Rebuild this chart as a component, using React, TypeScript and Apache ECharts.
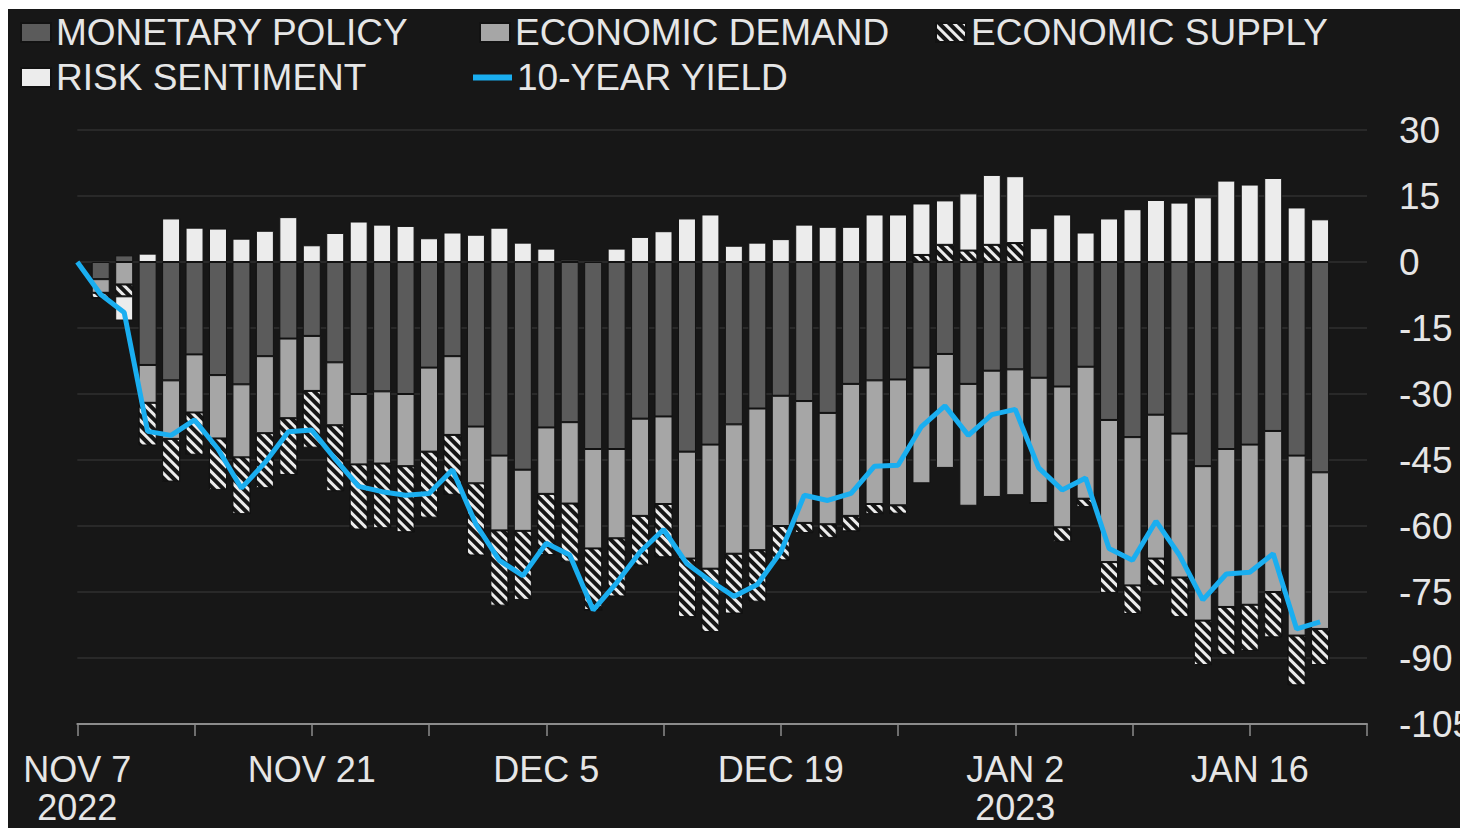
import React, { useEffect, useRef } from 'react';
import * as echarts from 'echarts';

// Business days from Nov 7 2022 to Jan 23 2023 (category axis)
const CATEGORIES = [
  'NOV 7', 'NOV 8', 'NOV 9', 'NOV 10', 'NOV 11', 'NOV 14', 'NOV 15', 'NOV 16', 'NOV 17', 'NOV 18',
  'NOV 21', 'NOV 22', 'NOV 23', 'NOV 24', 'NOV 25', 'NOV 28', 'NOV 29', 'NOV 30', 'DEC 1', 'DEC 2',
  'DEC 5', 'DEC 6', 'DEC 7', 'DEC 8', 'DEC 9', 'DEC 12', 'DEC 13', 'DEC 14', 'DEC 15', 'DEC 16',
  'DEC 19', 'DEC 20', 'DEC 21', 'DEC 22', 'DEC 23', 'DEC 26', 'DEC 27', 'DEC 28', 'DEC 29', 'DEC 30',
  'JAN 2', 'JAN 3', 'JAN 4', 'JAN 5', 'JAN 6', 'JAN 9', 'JAN 10', 'JAN 11', 'JAN 12', 'JAN 13',
  'JAN 16', 'JAN 17', 'JAN 18', 'JAN 19', 'JAN 20', 'JAN 23',
];
const YEAR_LABELS: Record<string, string> = { 'NOV 7': '2022', 'JAN 2': '2023' };

const Y_MIN = -105;
const Y_MAX = 30;
const Y_STEP = 15;

// Bars: NOV 8 .. JAN 19
const MONETARY = [
  -3.9, 1.5, -23.4, -26.9, -21.0, -25.7, -27.8, -21.4, -17.4, -16.8,
  -22.8, -30.0, -29.4, -30.0, -24.0, -21.4, -37.4, -44.0, -47.2, -37.6,
  -36.4, -42.5, -42.5, -35.6, -35.1, -43.1, -41.5, -36.9, -33.3, -30.4,
  -31.6, -34.3, -27.7, -26.9, -26.7, -24.0, -20.9, -27.7, -24.7, -24.4,
  -26.3, -28.3, -23.8, -35.9, -39.8, -34.7, -39.0, -46.4, -42.5, -41.5,
  -38.4, -44.0, -47.8,
];
const DEMAND = [
  -3.1, -5.1, -8.6, -13.3, -13.2, -14.4, -16.6, -17.5, -18.1, -12.5,
  -14.3, -16.0, -16.4, -16.4, -19.1, -17.9, -12.9, -17.0, -13.9, -15.1,
  -18.5, -22.6, -20.3, -22.1, -19.9, -24.3, -28.2, -29.4, -32.2, -29.6,
  -27.7, -25.3, -30.0, -28.1, -28.6, -26.3, -25.9, -27.7, -28.7, -28.6,
  -28.5, -32.0, -30.0, -32.3, -33.7, -32.7, -32.7, -35.1, -35.9, -36.4,
  -36.6, -40.9, -35.6,
];
const SUPPLY = [
  -1.2, -2.7, -9.7, -9.7, -9.6, -11.7, -12.9, -12.5, -12.9, -12.9,
  -15.0, -14.8, -14.7, -15.0, -15.0, -13.6, -16.4, -17.1, -15.7, -13.9,
  -13.2, -14.0, -13.2, -11.3, -12.1, -13.3, -14.4, -13.6, -11.7, -7.8,
  -2.3, -3.1, -3.5, -2.3, -1.9, 1.6, 3.9, 2.6, 3.9, 4.3,
  0, -3.3, -1.9, -7.0, -6.5, -6.2, -9.0, -10.1, -10.9, -10.5,
  -10.3, -11.3, -8.2,
];
const RISK = [
  0, -5.5, 1.9, 9.9, 7.8, 7.6, 5.3, 7.1, 10.2, 3.8,
  6.6, 9.2, 8.5, 8.2, 5.4, 6.7, 6.2, 7.8, 4.4, 3.05,
  0.5, 0, 3.05, 5.7, 7.0, 9.9, 10.8, 3.7, 4.4, 5.2,
  8.5, 8.0, 8.0, 10.8, 10.8, 11.7, 10.1, 13.0, 15.9, 15.2,
  7.7, 10.8, 6.7, 9.9, 12.0, 14.1, 13.5, 14.7, 18.5, 17.6,
  19.1, 12.4, 9.7,
];
// 10-year yield change: NOV 7 .. JAN 19
const YIELD = [
  0, -7.4, -11.5, -38.5, -39.4, -35.9, -42.5, -51.4, -45.6, -38.6,
  -38.2, -44.8, -51.0, -52.2, -53.0, -52.6, -47.2, -59.6, -67.8, -71.3,
  -63.9, -66.6, -79.1, -72.9, -65.9, -60.8, -68.6, -72.5, -76.0, -73.3,
  -65.9, -53.0, -54.2, -52.6, -46.4, -46.2, -37.4, -32.7, -39.4, -34.7,
  -33.5, -46.8, -51.8, -49.1, -65.1, -67.8, -58.9, -66.6, -76.8, -70.9,
  -70.5, -66.3, -83.4, -81.8,
];

const FONT = 'Liberation Sans';
const TEXT_COLOR = '#e6e6e6';

export default function App() {
  const ref = useRef<HTMLDivElement>(null);

  useEffect(() => {
    if (!ref.current) return;
    const chart = echarts.init(ref.current, undefined, { renderer: 'svg' });

    const barBorder = { borderColor: '#121212', borderWidth: 1 };
    const legendCommon = {
      padding: 0,
      itemWidth: 30,
      itemHeight: 19,
      itemGap: 0,
      itemTextGap: 1,
      icon: 'rect',
      selectedMode: false,
      textStyle: { color: TEXT_COLOR, fontSize: 37, fontFamily: FONT },
    };

    chart.setOption({
      animation: false,
      backgroundColor: '#171717',
      textStyle: { fontFamily: FONT },
      legend: [
        { ...legendCommon, data: ['MONETARY POLICY'], left: 12, top: 5 },
        { ...legendCommon, data: ['ECONOMIC DEMAND'], left: 471, top: 5 },
        { ...legendCommon, data: ['ECONOMIC SUPPLY'], left: 927, top: 5 },
        { ...legendCommon, data: ['RISK SENTIMENT'], left: 12, top: 50 },
        { ...legendCommon, data: ['10-YEAR YIELD'], left: 465, top: 50, itemWidth: 39, itemHeight: 6, itemTextGap: 0 },
      ],
      grid: { left: 69.3, right: 93, top: 121, bottom: 104, containLabel: false, outerBoundsMode: 'none' },
      xAxis: {
        type: 'category',
        data: CATEGORIES,
        boundaryGap: false,
        axisLine: { show: true, onZero: false, lineStyle: { color: '#8c8c8c', width: 2 } },
        axisTick: { show: true, interval: 4, length: 12, lineStyle: { color: '#8c8c8c', width: 1.5 } },
        axisLabel: {
          interval: 9,
          color: TEXT_COLOR,
          fontSize: 36,
          lineHeight: 38,
          margin: 26,
          fontFamily: FONT,
          formatter: (v: string) => (YEAR_LABELS[v] ? v + '\n' + YEAR_LABELS[v] : v),
        },
        splitLine: { show: false },
      },
      yAxis: {
        type: 'value',
        position: 'right',
        min: Y_MIN,
        max: Y_MAX,
        interval: Y_STEP,
        axisLine: { show: false },
        axisTick: { show: false },
        axisLabel: { color: TEXT_COLOR, fontSize: 37, margin: 32, fontFamily: FONT },
        splitLine: { show: true, lineStyle: { color: '#303030', width: 1.5 } },
      },
      series: [
        {
          name: 'MONETARY POLICY',
          type: 'bar',
          stack: 'drivers',
          barWidth: 18,
          data: [null, ...MONETARY],
          itemStyle: { color: '#5b5b5b', ...barBorder },
        },
        {
          name: 'ECONOMIC DEMAND',
          type: 'bar',
          stack: 'drivers',
          barWidth: 18,
          data: [null, ...DEMAND],
          itemStyle: { color: '#a6a6a6', ...barBorder },
        },
        {
          name: 'ECONOMIC SUPPLY',
          type: 'bar',
          stack: 'drivers',
          barWidth: 18,
          data: [null, ...SUPPLY],
          itemStyle: {
            color: '#161616',
            ...barBorder,
            decal: {
              symbol: 'rect',
              symbolSize: 1,
              color: '#ececec',
              backgroundColor: '#161616',
              dashArrayX: [1, 0],
              dashArrayY: [3, 4],
              rotation: Math.PI / 4,
            },
          },
        },
        {
          name: 'RISK SENTIMENT',
          type: 'bar',
          stack: 'drivers',
          barWidth: 18,
          data: [null, ...RISK],
          itemStyle: { color: '#ececec', ...barBorder },
        },
        {
          name: '10-YEAR YIELD',
          type: 'line',
          data: YIELD,
          symbol: 'none',
          z: 5,
          itemStyle: { color: '#1aaef0' },
          lineStyle: { color: '#1aaef0', width: 5 },
        },
      ],
    });

    return () => chart.dispose();
  }, []);

  return (
    <div
      ref={ref}
      style={{ position: 'fixed', left: 8, top: 9, width: 1452, height: 819 }}
    />
  );
}
